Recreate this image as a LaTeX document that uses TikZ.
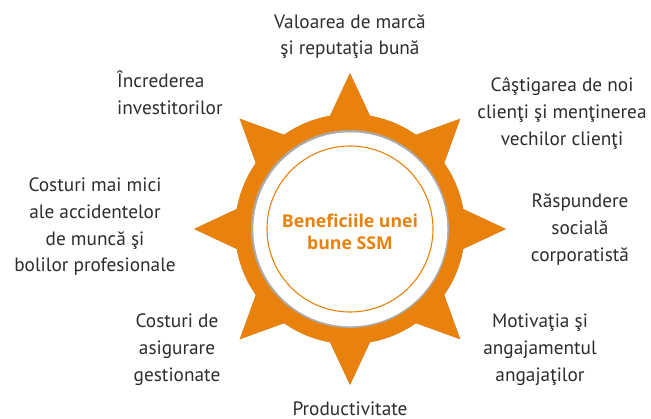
\documentclass[tikz,border=0pt]{standalone}
\usepackage{fontspec}
\usetikzlibrary{calc}
\setmainfont{PT Sans}
\newfontfamily\titlefont{Open Sans}
\definecolor{ssmorange}{RGB}{232,130,12}
\definecolor{txtgray}{RGB}{45,45,45}
\definecolor{shadowgray}{RGB}{170,170,170}
\begin{document}
\begin{tikzpicture}[x=1pt,y=-1pt,
  lbl/.style={text=txtgray, align=center, font=\fontsize{19.3}{26.7}\selectfont, inner sep=0pt, anchor=base},
  ttl/.style={text=ssmorange, align=center, font=\titlefont\bfseries\fontsize{17.7}{21.5}\selectfont, inner sep=0pt, anchor=base}]
\useasboundingbox (0,0) rectangle (651,419);
\coordinate (C) at (350,229);
% shadow of the sun shape
\begin{scope}[shift={(2.2,2.2)}]
  \fill[shadowgray] (C) circle[radius=115];
  \foreach \a in {0,45,...,315}{
    \fill[shadowgray,rotate around={\a:(C)}] ($(C)+(156,0)$) -- ($(C)+(100,26.2)$) -- ($(C)+(100,-26.2)$) -- cycle;
  }
\end{scope}
% sun shape
\fill[ssmorange] (C) circle[radius=115];
\foreach \a in {0,45,...,315}{
  \fill[ssmorange,rotate around={\a:(C)}] ($(C)+(156,0)$) -- ($(C)+(100,26.2)$) -- ($(C)+(100,-26.2)$) -- cycle;
}
% inner disc
\fill[shadowgray] (C) circle[radius=99];
\fill[white] ($(C)+(0.3,0.3)$) circle[radius=97];
\draw[ssmorange, line width=1.1pt] (C) circle[radius=83];
\node[ttl] (title) at (350,249.5) {Beneficiile unei\\bune SSM};
% labels (anchor = baseline of the last line)
\node[lbl] (top) at (350,55) {Valoarea de marcă\\şi reputaţia bună};
\node[lbl, align=left, anchor=base west] (ul) at (117,114.7) {Încrederea\\investitorilor};
\node[lbl] (ur) at (562,145.4) {Câştigarea de noi\\clienţi şi menţinerea\\vechilor clienţi};
\node[lbl] (lt) at (95,272) {Costuri mai mici\\ale accidentelor\\de muncă şi\\bolilor profesionale};
\node[lbl] (rt) at (580,261.4) {Răspundere\\socială\\corporatistă};
\node[lbl] (ll) at (177,381.4) {Costuri de\\asigurare\\gestionate};
\node[lbl] (lr) at (540,381.4) {Motivaţia şi\\angajamentul\\angajaţilor};
\node[lbl] (bt) at (350,416) {Productivitate};
\end{tikzpicture}
\end{document}
